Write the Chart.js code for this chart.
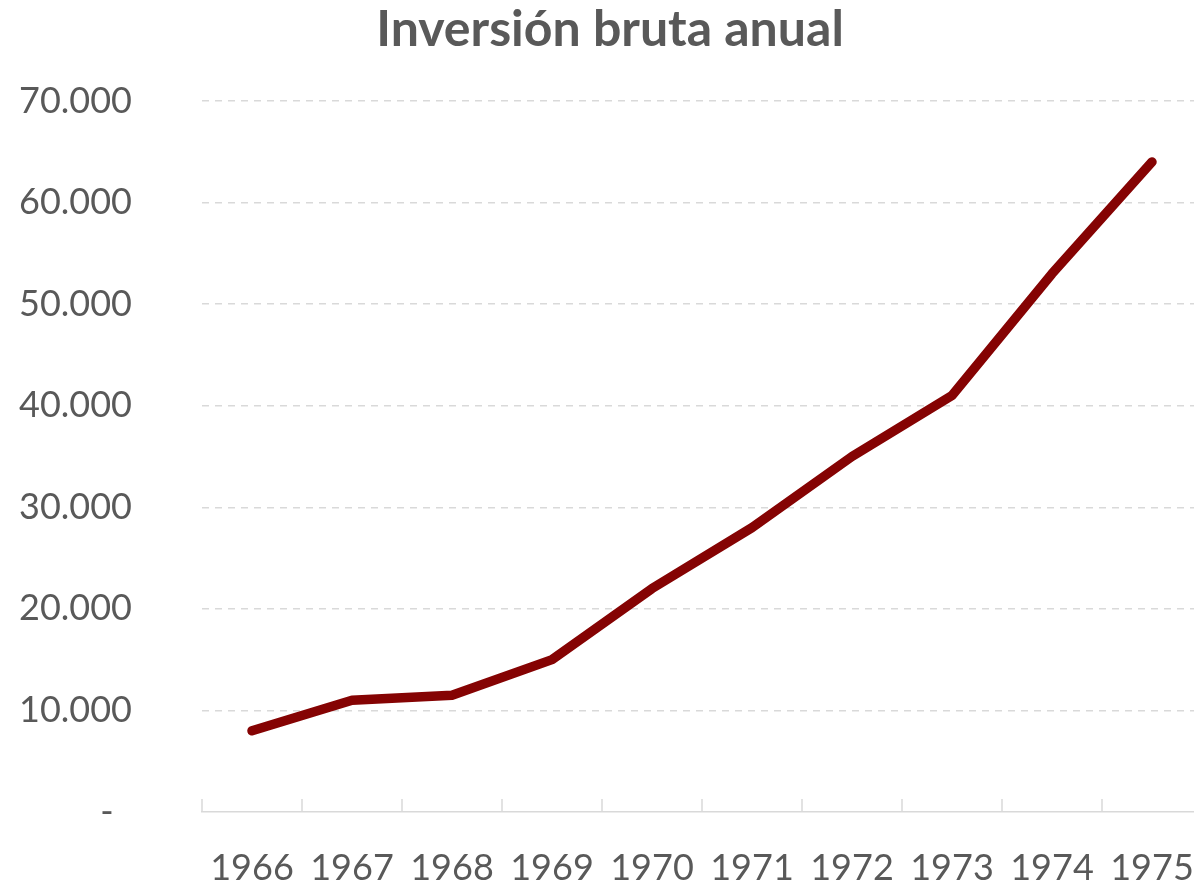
<!DOCTYPE html>
<html>
<head>
<meta charset="utf-8">
<script src="https://cdn.jsdelivr.net/npm/chart.js@4.4.1/dist/chart.umd.min.js"></script>
<style>
  html, body { margin: 0; padding: 0; background: #fff; overflow: hidden; }
  #wrap { width: 1220px; height: 883px; position: relative; }
</style>
</head>
<body>
<div id="wrap"><canvas id="invChart"></canvas></div>
<script>
const years = ["1966", "1967", "1968", "1969", "1970", "1971", "1972", "1973", "1974", "1975"];
const inversion = [8000, 11000, 11500, 15000, 22000, 28000, 35000, 41000, 53000, 64000];
const yTicks = [0, 10000, 20000, 30000, 40000, 50000, 60000, 70000];

const gray = "#595959";
const gridGray = "#d9d9d9";

// marcas del eje x hacia arriba, entre categorias
const tickMarks = {
  id: "tickMarks",
  afterDatasetsDraw(chart) {
    const x = chart.scales.x;
    const ctx = chart.ctx;
    const step = x.getPixelForValue(1) - x.getPixelForValue(0);
    ctx.save();
    ctx.strokeStyle = gridGray;
    ctx.lineWidth = 1.5;
    for (let i = 0; i <= years.length; i++) {
      const px = x.getPixelForValue(0) - step / 2 + i * step;
      ctx.beginPath();
      ctx.moveTo(px, x.top);
      ctx.lineTo(px, x.top - 13);
      ctx.stroke();
    }
    ctx.restore();
  }
};

new Chart(document.getElementById("invChart"), {
  type: "line",
  data: {
    labels: years,
    datasets: [{
      label: "Inversión bruta anual",
      data: inversion,
      borderColor: "#850303",
      borderWidth: 9.5,
      borderCapStyle: "round",
      borderJoinStyle: "round",
      pointRadius: 0,
      tension: 0
    }]
  },
  options: {
    responsive: true,
    maintainAspectRatio: false,
    animation: false,
    layout: { padding: 0 },
    plugins: {
      legend: { display: false },
      tooltip: { enabled: false },
      title: {
        display: true,
        text: "Inversión bruta anual",
        color: gray,
        font: { family: "Lato", size: 50, weight: "bold", lineHeight: 1.2 },
        padding: { top: 0, bottom: 41 }
      }
    },
    scales: {
      x: {
        offset: true,
        grid: { display: false },
        border: { display: true, color: gridGray, width: 1.5 },
        ticks: {
          color: gray,
          font: { family: "Lato", size: 36, lineHeight: 1 },
          padding: 30,
          maxRotation: 0,
          autoSkip: false
        },
        afterFit(scale) {
          scale.height = 71;
          scale.paddingLeft = 0;
          scale.paddingRight = 18;
        }
      },
      y: {
        min: 0,
        max: 70000,
        afterBuildTicks(scale) { scale.ticks = yTicks.map(v => ({ value: v })); },
        grid: {
          color: ctx => ctx.tick && ctx.tick.value === 0 ? "rgba(0,0,0,0)" : gridGray,
          lineWidth: 1.5,
          drawTicks: false
        },
        border: { display: false, dash: [7, 6] },
        ticks: {
          color: gray,
          font: { family: "Lato", size: 36 },
          padding: 70,
          callback: v => v === 0 ? "-  " : v.toLocaleString("de-DE")
        },
        afterFit(scale) {
          scale.width = 202;
          scale.paddingTop = 0;
          scale.paddingBottom = 0;
        }
      }
    }
  },
  plugins: [tickMarks]
});
</script>
</body>
</html>
